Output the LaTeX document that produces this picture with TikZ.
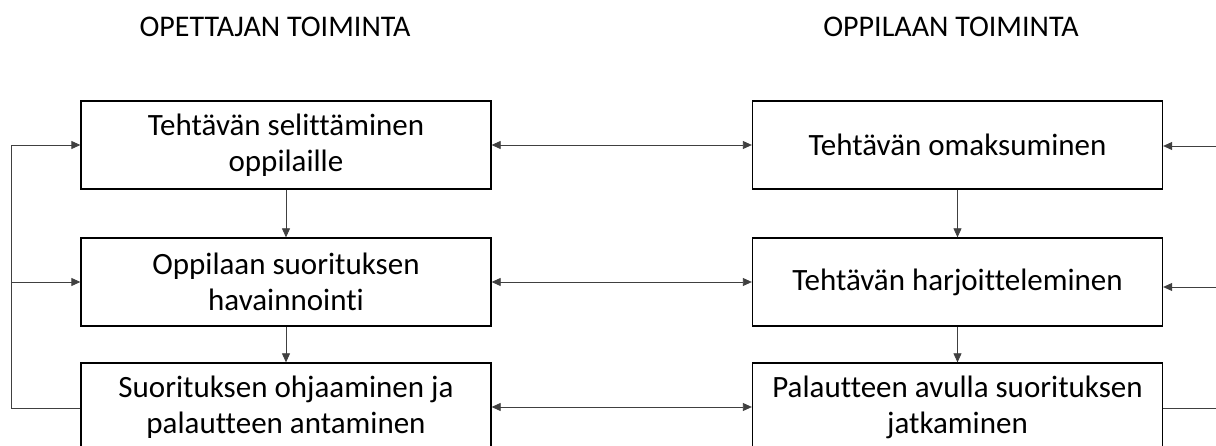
\documentclass[tikz,border=0pt]{standalone}
\usepackage{fontspec}
\setmainfont{Carlito}[Ligatures=NoCommon]
\usetikzlibrary{arrows.meta}

\tikzset{
    toiminta/.style={draw, line width=1.3pt, minimum width=410pt, minimum height=88pt,
        align=center, inner sep=0pt, font=\fontsize{31}{36}\selectfont},
    otsikko/.style={font=\fontsize{30}{34}\selectfont, inner sep=0pt, anchor=base},
    yhteys/.style={line width=0.8pt, draw=black!75},
    kaksi/.style={yhteys, {Triangle[length=9pt,width=8pt]}-{Triangle[length=9pt,width=8pt]}},
    yksi/.style={yhteys, -{Triangle[length=9pt,width=8pt]}}
}

\begin{document}
\begin{tikzpicture}[x=1pt, y=-1pt]
    \useasboundingbox (0,0) rectangle (1216,446);
    \clip (0,0) rectangle (1216,446);

    \node[otsikko] (opettaja) at (275,37) {OPETTAJAN TOIMINTA};
    \node[otsikko] (oppilas) at (951,37) {OPPILAAN TOIMINTA};

    \node[toiminta] (l1) at (286,145) {Tehtävän selittäminen\\oppilaille};
    \node[toiminta] (l2) at (286,282) {Oppilaan suorituksen\\havainnointi};
    \node[toiminta] (l3) at (286,407) {Suorituksen ohjaaminen ja\\palautteen antaminen};

    \node[toiminta] (r1) at (957.5,145) {Tehtävän omaksuminen};
    \node[toiminta] (r2) at (957.5,282) {Tehtävän harjoitteleminen};
    \node[toiminta] (r3) at (957.5,407) {Palautteen avulla suorituksen\\jatkaminen};

    \draw[kaksi] (l1) -- (r1);
    \draw[kaksi] (l2) -- (r2);
    \draw[kaksi] (l3) -- (r3);

    \draw[yksi] (l1) -- (l2);
    \draw[yksi] (l2) -- (l3);
    \draw[yksi] (r1) -- (r2);
    \draw[yksi] (r2) -- (r3);

    % paluu vasemmalla
    \coordinate (v3) at (11,408);
    \draw[yksi] (l3.west |- v3) -- (v3) |- (l1.west);
    \draw[yksi] (v3 |- l2.west) -- (l2.west);

    % paluu oikealla
    \coordinate (o1) at (1216,146);
    \coordinate (o2) at (1216,287);
    \coordinate (o3) at (1216,408);
    \draw[yksi] (o1) -- (r1.east |- o1);
    \draw[yksi] (o2) -- (r2.east |- o2);
    \draw[yhteys] (r3.east |- o3) -- (o3);
\end{tikzpicture}
\end{document}
